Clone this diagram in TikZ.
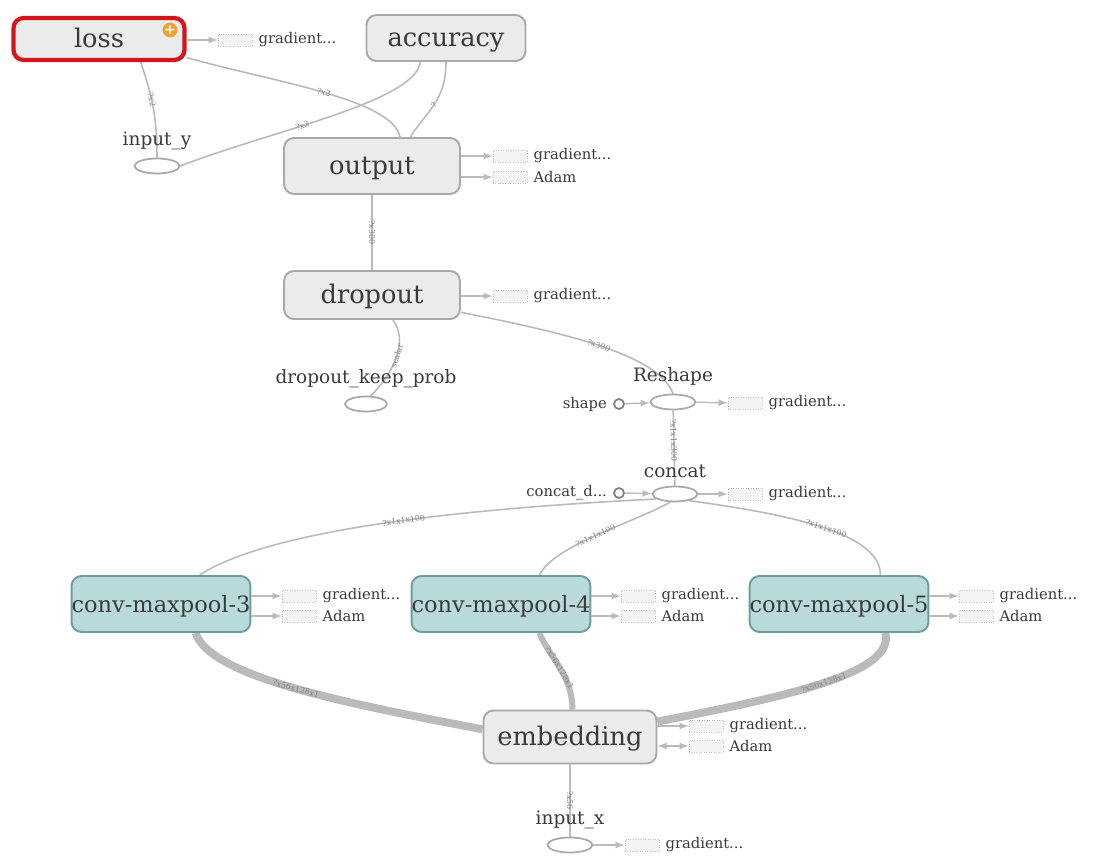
\documentclass[tikz,border=0pt]{standalone}
\usepackage{fontspec}
\setmainfont{DejaVu Serif}
\usetikzlibrary{shapes,arrows,backgrounds,positioning}

\definecolor{opfill}{HTML}{EBEBEB}
\definecolor{opline}{HTML}{A9A9A9}
\definecolor{convfill}{HTML}{B9DADA}
\definecolor{convline}{HTML}{6F9C9C}
\definecolor{edgegray}{HTML}{BABABA}
\definecolor{lossred}{HTML}{D4161C}
\definecolor{txtgray}{HTML}{3A3A3A}
\definecolor{plusorange}{HTML}{F0A22E}

\begin{document}
\begin{tikzpicture}[x=0.02cm, y=-0.02cm]
		\tikzstyle{Group}	= [rectangle, rounded corners=0.2cm, draw=opline, line width=1.1pt, fill=opfill, text=txtgray, font=\fontsize{14.6}{16}\selectfont, inner sep=0pt, text height=11pt, text depth=1pt]
		\tikzstyle{Conv}	= [Group, draw=convline, fill=convfill, font=\fontsize{12.8}{14}\selectfont, minimum width=3.5cm, minimum height=1.12cm]
		\tikzstyle{Op}		= [ellipse, draw=opline, line width=1pt, fill=white, minimum width=0.9cm, minimum height=0.3cm, inner sep=0pt]
		\tikzstyle{Const}	= [circle, draw=gray, line width=1pt, fill=white, minimum size=0.2cm, inner sep=0pt]
		\tikzstyle{OpLabel}	= [text=txtgray, font=\fontsize{10.5}{12}\selectfont]
		\tikzstyle{Aux}		= [rectangle, draw=opline!70, densely dotted, fill=opfill!60, minimum width=0.68cm, minimum height=0.24cm, inner sep=0pt]
		\tikzstyle{AuxLabel}	= [text=txtgray, font=\fontsize{8.4}{10}\selectfont]
		\tikzstyle{Flow}	= [draw=edgegray, line width=0.9pt]
		\tikzstyle{Thick}	= [draw=edgegray, line width=4.5pt]
		\tikzstyle{AuxFlow}	= [draw=edgegray, line width=0.8pt, -latex]
		\tikzstyle{Shape}	= [font=\fontsize{4.5}{5}\selectfont, text=gray, sloped, inner sep=0.5pt]

		\useasboundingbox (0,0) rectangle (1093,857);

		% top of the graph
		\node (loss) at (99,39) [Group, draw=lossred, line width=2.4pt, minimum width=3.42cm, minimum height=0.84cm] {loss};
		\node (lossPlus) at (170,30) [circle, fill=plusorange, minimum size=0.24cm, inner sep=0pt, text=white, font=\bfseries\fontsize{8}{8}\selectfont] {+};
		\node (accuracy) at (446,38) [Group, minimum width=3.18cm, minimum height=0.92cm] {accuracy};
		\node (inputY) at (157,166) [Op, label={[OpLabel, label distance=1pt]above:input\_y}] {};
		\node (output) at (372,166) [Group, minimum width=3.52cm, minimum height=1.12cm] {output};
		\node (dropout) at (372,295) [Group, minimum width=3.52cm, minimum height=0.96cm] {dropout};
		\node (keepProb) at (366,404) [Op, minimum width=0.84cm, label={[OpLabel, label distance=1pt]above:dropout\_keep\_prob}] {};

		% reshape and concat
		\node (reshape) at (673,402) [Op, label={[OpLabel, label distance=1pt]above:Reshape}] {};
		\node (shapeC) at (619,404) [Const, label={[AuxLabel]left:shape}] {};
		\node (concat) at (675,494) [Op, label={[OpLabel, label distance=1pt]above:concat}] {};
		\node (concatD) at (619,493) [Const, label={[AuxLabel]left:concat\_d...}] {};

		% convolutions
		\node (conv3) at (161,604) [Conv] {conv-maxpool-3};
		\node (conv4) at (501,604) [Conv] {conv-maxpool-4};
		\node (conv5) at (839,604) [Conv] {conv-maxpool-5};
		\node (embedding) at (570,737) [Group, minimum width=3.46cm, minimum height=1.06cm] {embedding};
		\node (inputX) at (570,845) [Op, label={[OpLabel, label distance=1pt]above:input\_x}] {};

		% auxiliary nodes
		\node (lossG) at (235,40) [Aux, label={[AuxLabel]right:gradient...}] {};
		\node (outG) at (510,156) [Aux, label={[AuxLabel]right:gradient...}] {};
		\node (outA) at (510,177) [Aux, label={[AuxLabel]right:Adam}] {};
		\node (dropG) at (510,296) [Aux, label={[AuxLabel]right:gradient...}] {};
		\node (reshapeG) at (745,403) [Aux, label={[AuxLabel]right:gradient...}] {};
		\node (concatG) at (745,494) [Aux, label={[AuxLabel]right:gradient...}] {};
		\node (conv3G) at (299,596) [Aux, label={[AuxLabel]right:gradient...}] {};
		\node (conv3A) at (299,616) [Aux, label={[AuxLabel]right:Adam}] {};
		\node (conv4G) at (638,596) [Aux, label={[AuxLabel]right:gradient...}] {};
		\node (conv4A) at (638,616) [Aux, label={[AuxLabel]right:Adam}] {};
		\node (conv5G) at (976,596) [Aux, label={[AuxLabel]right:gradient...}] {};
		\node (conv5A) at (976,616) [Aux, label={[AuxLabel]right:Adam}] {};
		\node (embG) at (706,726) [Aux, label={[AuxLabel]right:gradient...}] {};
		\node (embA) at (706,746) [Aux, label={[AuxLabel]right:Adam}] {};
		\node (inputXG) at (642,845) [Aux, label={[AuxLabel]right:gradient...}] {};

		\begin{scope}[on background layer]
		\fill [white] (0,0) rectangle (1093,857);

		\draw [Flow] (loss.-29) .. controls +(10,30) and +(0,-45) .. (inputY.north) node [Shape, pos=0.45] {?x2};
		\draw [Flow] (loss.-12) .. controls +(90,25) and +(-8,-38) .. (output.46) node [Shape, pos=0.5] {?x2};
		\draw [Flow] (accuracy.-137) .. controls +(-5,40) and +(90,-35) .. (inputY.east) node [Shape, pos=0.6] {?x2};
		\draw [Flow] (accuracy.-90) .. controls +(0,40) and +(15,-25) .. (output.37) node [Shape, pos=0.5] {?};
		\draw [Flow] (output) to node [Shape] {?x300} (dropout);
		\draw [Flow] (dropout.-50) .. controls +(15,20) and +(25,-25) .. (keepProb.60) node [Shape, pos=0.5] {scalar};
		\draw [Flow] (dropout.-11) .. controls +(100,20) and +(-15,-40) .. (reshape.north) node [Shape, pos=0.5] {?x300};
		\draw [Flow] (reshape) to node [Shape, pos=0.4] {?x1x1x300} (concat);

		\draw [Flow] (concat.195) .. controls +(-200,10) and +(70,-45) .. (conv3.37) node [Shape, pos=0.45] {?x1x1x100};
		\draw [Flow] (concat.-120) .. controls +(-40,22) and +(15,-30) .. (conv4.37) node [Shape, pos=0.5] {?x1x1x100};
		\draw [Flow] (concat.-25) .. controls +(110,15) and +(0,-40) .. (conv5.35) node [Shape, pos=0.5] {?x1x1x100};

		\draw [Thick] (conv3.-40) .. controls +(15,45) and +(-130,-25) .. (embedding.175) node [Shape, pos=0.5] {?x56x128x1};
		\draw [Thick, line width=3.4pt] (conv4.-37) .. controls +(10,25) and +(0,-35) .. (embedding.85) node [Shape, pos=0.5] {?x56x128x1};
		\draw [Thick] (conv5.-32) .. controls +(10,40) and +(130,-25) .. (embedding.10) node [Shape, pos=0.5] {?x56x128x1};
		\draw [Flow] (embedding) to node [Shape] {?x56} (inputX);
		\end{scope}

		% auxiliary edges
		\draw [AuxFlow] (loss.east |- lossG) to (lossG);
		\draw [AuxFlow] (output.east |- outG) to (outG);
		\draw [AuxFlow] (output.east |- outA) to (outA);
		\draw [AuxFlow] (dropout.east |- dropG) to (dropG);
		\draw [AuxFlow] (shapeC) to (reshape);
		\draw [AuxFlow] (reshape) to (reshapeG);
		\draw [AuxFlow] (concatD) to (concat);
		\draw [AuxFlow] (concat) to (concatG);
		\draw [AuxFlow] (conv3.east |- conv3G) to (conv3G);
		\draw [AuxFlow] (conv3.east |- conv3A) to (conv3A);
		\draw [AuxFlow] (conv4.east |- conv4G) to (conv4G);
		\draw [AuxFlow] (conv4.east |- conv4A) to (conv4A);
		\draw [AuxFlow] (conv5.east |- conv5G) to (conv5G);
		\draw [AuxFlow] (conv5.east |- conv5A) to (conv5A);
		\draw [AuxFlow] (embedding.east |- embG) to (embG);
		\draw [AuxFlow, latex-latex] (embedding.east |- embA) to (embA);
		\draw [AuxFlow] (inputX) to (inputXG);
	\end{tikzpicture}
\end{document}
